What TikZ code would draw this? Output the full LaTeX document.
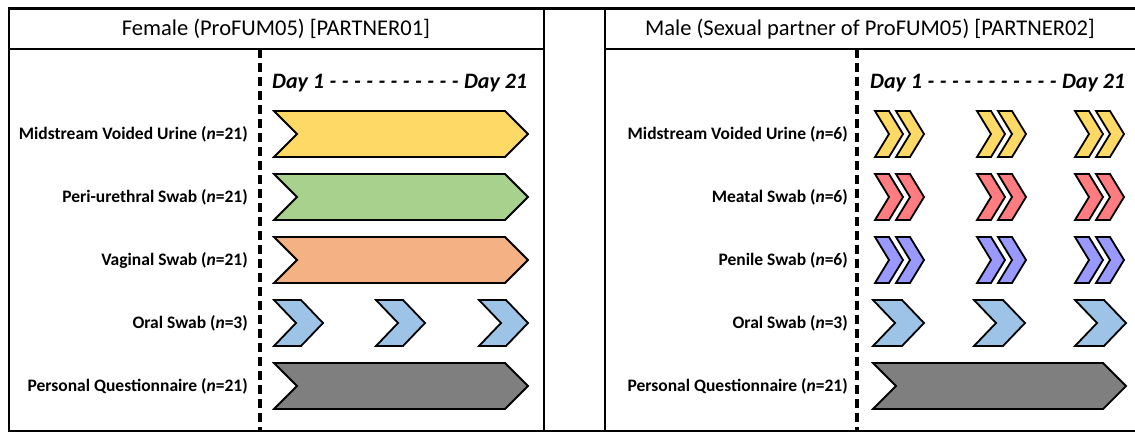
\documentclass[tikz,border=0pt]{standalone}
\usepackage{fontspec}
\setmainfont{Carlito}
\definecolor{urineCol}{HTML}{FFD966}
\definecolor{periCol}{HTML}{A9D18E}
\definecolor{vagCol}{HTML}{F4B183}
\definecolor{oralCol}{HTML}{9DC3E6}
\definecolor{questCol}{HTML}{7F7F7F}
\definecolor{meatCol}{HTML}{FF7C80}
\definecolor{penCol}{HTML}{9999FF}

\tikzset{
  frame/.style={line width=2pt, black},
  dayline/.style={line width=3.2pt, dash pattern=on 9pt off 5pt},
  chevline/.style={line width=1.8pt, line join=miter, draw=black},
  head/.style={font=\fontsize{22.5}{26}\selectfont},
  sample/.style={font=\bfseries\fontsize{17.5}{20}\selectfont, anchor=east, inner sep=0pt},
  days/.style={font=\bfseries\itshape\fontsize{22}{25}\selectfont, inner sep=0pt}
}

%% chevron: left x, right x, centre y, point depth, colour
\newcommand{\chev}[5]{%
  \filldraw[chevline, fill=#5] (#1,#3-23) -- (#2-#4,#3-23) -- (#2,#3)
    -- (#2-#4,#3+23) -- (#1,#3+23) -- (#1+#4,#3) -- cycle;}
%% double chevron: left x, centre y, colour
\newcommand{\dchev}[3]{%
  \chev{#1}{#1+28}{#2}{14}{#3}\chev{#1+21}{#1+49}{#2}{14}{#3}}

\begin{document}
\begin{tikzpicture}[x=1pt, y=-1pt]
\useasboundingbox (0,0) rectangle (1135,432);

%% Row centres
\def\rA{134}
\def\rB{197}
\def\rC{260}
\def\rD{323}
\def\rE{386}

%% Frames
\draw[line width=3pt] (8,8) -- (1140,8);
\draw[frame] (8,431) -- (1140,431);
\draw[frame] (9,8) -- (9,431);
\draw[frame] (544,8) -- (544,431);
\draw[frame] (605,8) -- (605,431);
\draw[frame] (1138,8) -- (1138,431);
\draw[frame] (9,49) -- (544,49);
\draw[frame] (605,49) -- (1140,49);

%% Day 1 marker lines
\draw[dayline] (260,49) -- (260,431);
\draw[dayline] (857,49) -- (857,431);

%% Headers
\node[head] (fHead) at (276,29) {Female (ProFUM05) [PARTNER01]};
\node[head] (mHead) at (870,29) {Male (Sexual partner of ProFUM05) [PARTNER02]};

%% Time axis
\node[days, anchor=west] (fDays) at (272,83)
  {\makebox[255pt][s]{\mbox{Day 1} - - - - - - - - - - - \mbox{Day 21}}};
\node[days, anchor=west] (mDays) at (870,83)
  {\makebox[255pt][s]{\mbox{Day 1} - - - - - - - - - - - \mbox{Day 21}}};

%% Female samples
\node[sample] (fUrine) at (248,\rA) {Midstream Voided Urine (\textit{n}=21)};
\node[sample] (fPeri)  at (248,\rB) {Peri-urethral Swab (\textit{n}=21)};
\node[sample] (fVag)   at (248,\rC) {Vaginal Swab (\textit{n}=21)};
\node[sample] (fOral)  at (248,\rD) {Oral Swab (\textit{n}=3)};
\node[sample] (fQuest) at (248,\rE) {Personal Questionnaire (\textit{n}=21)};

\chev{274}{528}{\rA}{23}{urineCol}
\chev{274}{528}{\rB}{23}{periCol}
\chev{274}{528}{\rC}{23}{vagCol}
\foreach \xx in {274,376,479}
  \chev{\xx}{\xx+49}{\rD}{22}{oralCol};
\chev{274}{528}{\rE}{23}{questCol}

%% Male samples
\node[sample] (mUrine) at (848,\rA) {Midstream Voided Urine (\textit{n}=6)};
\node[sample] (mMeat)  at (848,\rB) {Meatal Swab (\textit{n}=6)};
\node[sample] (mPen)   at (848,\rC) {Penile Swab (\textit{n}=6)};
\node[sample] (mOral)  at (848,\rD) {Oral Swab (\textit{n}=3)};
\node[sample] (mQuest) at (848,\rE) {Personal Questionnaire (\textit{n}=21)};

\foreach \xx in {875,977,1075} {
  \dchev{\xx}{\rA}{urineCol}
  \dchev{\xx}{\rB}{meatCol}
  \dchev{\xx}{\rC}{penCol}
}
\foreach \xx in {873,974,1075}
  \chev{\xx}{\xx+51}{\rD}{22}{oralCol};
\chev{873}{1126}{\rE}{23}{questCol}

\end{tikzpicture}
\end{document}
